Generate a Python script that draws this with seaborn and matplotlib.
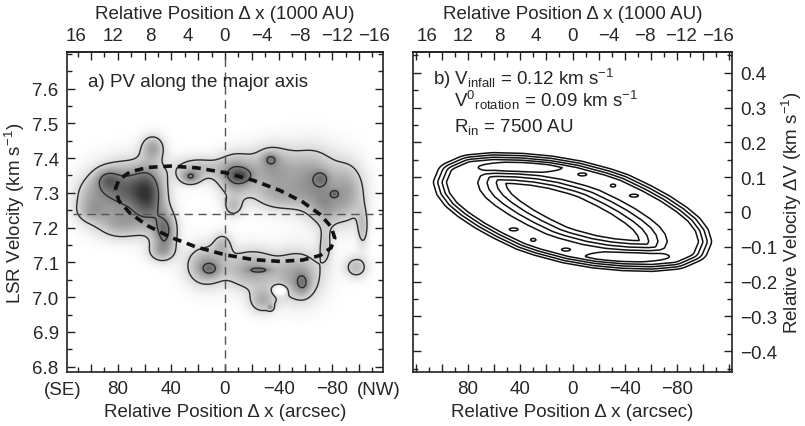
import numpy as np
import pandas as pd
import matplotlib
matplotlib.use("Agg")
import matplotlib.pyplot as plt
import seaborn as sns
from matplotlib.path import Path
from matplotlib.colors import LinearSegmentedColormap
from matplotlib.ticker import MultipleLocator, FixedLocator, FuncFormatter

# =========================================================
#   DATA
# =========================================================
dist_pc = 144          # arcsec -> AU conversion of the top axis
v_sys = 7.24           # horizontal dashed line, km/s

# dashed model ring over panel a (arcsec, km/s)
ring_x = [82, 79.2, 71, 58, 41, 21.2, 0, -21.2, -41, -58, -71, -79.2, -82,
          -79.2, -71, -58, -41, -21.2, 0, 21.2, 41, 58, 71, 79.2, 82]
ring_v = [7.310, 7.338, 7.360, 7.373, 7.377, 7.372, 7.358, 7.336, 7.307,
          7.274, 7.238, 7.203, 7.170, 7.142, 7.120, 7.107, 7.103, 7.108,
          7.122, 7.144, 7.173, 7.206, 7.242, 7.277, 7.310]

# emission clumps of panel a: position, velocity, peak, width in x, width in v
clump_x = [75, 57, 45, 54, 100, 48, 20, 26, 88, 78, 100,
           -8, -35, -65, -92, -103, -6, -12, -34, -72, -82, -40, -75,
           15, -20, -55, -28, 2, -75, 11, -26, -58, -34, -41, -98]
clump_v = [7.31, 7.29, 7.19, 7.43, 7.28, 7.13, 7.37, 7.345, 7.34, 7.21, 7.245,
           7.35, 7.37, 7.34, 7.30, 7.20, 7.26, 7.35, 7.398, 7.343, 7.297, 7.29, 7.26,
           7.09, 7.08, 7.06, 6.99, 7.15, 7.15, 7.081, 7.078, 7.038, 6.97, 7.02, 7.086]
clump_amp = [0.9, 0.8, 0.8, 0.5, 0.35, 0.35, 0.4, 0.55, 0.4, 0.45, 0.2,
             0.7, 0.55, 0.6, 0.5, 0.35, 0.35, 0.4, 0.35, 0.3, 0.3, 0.35, 0.4,
             0.55, 0.55, 0.55, 0.45, 0.35, 0.3, 0.35, 0.35, 0.35, 0.4, -0.5, 0.4]
clump_sx = [15, 8, 6, 6, 9, 7, 14, 5, 6, 12, 8,
            9, 12, 13, 9, 3, 5, 6, 4, 4, 2, 14, 8,
            10, 14, 12, 7, 5, 4, 5, 6, 4, 1.5, 3.5, 6]
clump_sv = [0.05, 0.06, 0.04, 0.025, 0.045, 0.02, 0.025, 0.014, 0.02, 0.03, 0.02,
            0.04, 0.045, 0.06, 0.06, 0.04, 0.02, 0.015, 0.013, 0.015, 0.007, 0.03, 0.04,
            0.04, 0.04, 0.05, 0.025, 0.025, 0.04, 0.015, 0.006, 0.022, 0.006, 0.01, 0.022]
levels_a = [0.25, 0.75]

# panel b: centre line of the model ring (arcsec, km/s), closed
ringb_x = [87, 84, 75, 60, 40, 20, 0, -20, -31, -47, -60, -72, -80, -85,
           -87, -84, -75, -60, -40, -20, 0, 20, 31, 47, 60, 72, 80, 85, 87]
ringb_v = [0.085, 0.112, 0.127, 0.132, 0.13, 0.123, 0.11, 0.09, 0.076, 0.047,
           0.02, -0.01, -0.035, -0.06, -0.085, -0.112, -0.127, -0.132, -0.13,
           -0.123, -0.11, -0.09, -0.076, -0.047, -0.02, 0.01, 0.035, 0.06, 0.085]
# fall-off of the emission outside / inside the ring
xscale_out, d0_out, k_out = 500.0, 0.012, 30.0
xscale_in, d0_in, k_in = 730.0, 0.010, 20.7
levels_b = [0.2, 0.4, 0.6, 0.8, 1.04]
# bright knots along the model ring
knot_x = [40, -42, -7.5, -31, -47, 45, 30, 5]
knot_v = [0.128, -0.128, 0.108, 0.076, 0.047, -0.05, -0.08, -0.108]
knot_amp = [0.3, 0.3, 0.1, 0.1, 0.1, 0.1, 0.1, 0.1]
knot_sx = [16, 16, 2.5, 1.5, 2.5, 2.5, 1.5, 2.5]
knot_sv = [0.008, 0.008, 0.003, 0.003, 0.003, 0.003, 0.003, 0.003]

# axis ticks
kau_ticks = [16, 12, 8, 4, 0, -4, -8, -12, -16]
lsr_ticks = [6.8, 6.9, 7.0, 7.1, 7.2, 7.3, 7.4, 7.5, 7.6]

# =========================================================
#   STYLE
# =========================================================
sns.set_theme(style="ticks")
plt.rcParams["font.family"] = ["Liberation Sans", "DejaVu Sans"]
plt.rcParams["mathtext.fontset"] = "custom"
plt.rcParams["mathtext.rm"] = "Liberation Sans"
plt.rcParams["mathtext.default"] = "regular"
plt.rcParams["axes.linewidth"] = 1.2

fs = 13.5
gray_cmap = LinearSegmentedColormap.from_list("pv", ["#ffffff", "#333333"])


def minus(s):
    return s.replace("-", "\u2212")


def fmt_arcsec(v, p):
    if abs(v) % 40 > 1e-6 or abs(v) > 100:
        return ""
    return minus(f"{v:.0f}")


def fmt_kau(v, p):
    return minus(f"{v:.0f}")


def fmt_dv(v, p):
    if abs(v) < 1e-6:
        return "0"
    return minus(f"{v:.1f}")


def field_a(X, V):
    f = np.zeros_like(X)
    for x0, v0, a, sx, sv in zip(clump_x, clump_v, clump_amp, clump_sx, clump_sv):
        f += a * np.exp(-0.5 * ((X - x0) / sx) ** 2 - 0.5 * ((V - v0) / sv) ** 2)
    return f


def dist_to_ring(X, V, xscale):
    px = np.array(ringb_x) / xscale
    pv = np.array(ringb_v)
    x = X / xscale
    d2 = np.full(X.shape, np.inf)
    for i in range(len(px) - 1):
        ex, ev = px[i + 1] - px[i], pv[i + 1] - pv[i]
        t = ((x - px[i]) * ex + (V - pv[i]) * ev) / (ex * ex + ev * ev)
        t = np.clip(t, 0, 1)
        d2 = np.minimum(d2, (x - px[i] - t * ex) ** 2 + (V - pv[i] - t * ev) ** 2)
    return np.sqrt(d2)


def field_b(X, V):
    inside = Path(np.column_stack([ringb_x, ringb_v])).contains_points(
        np.column_stack([X.ravel(), V.ravel()])).reshape(X.shape)
    f_out = 1 - k_out * (dist_to_ring(X, V, xscale_out) - d0_out)
    f_in = 1 - k_in * (dist_to_ring(X, V, xscale_in) - d0_in)
    f = np.clip(np.where(inside, f_in, f_out), 0, 1)
    for x0, v0, a, sx, sv in zip(knot_x, knot_v, knot_amp, knot_sx, knot_sv):
        f += a * np.exp(-0.5 * ((X - x0) / sx) ** 2 - 0.5 * ((V - v0) / sv) ** 2)
    return f


def style_axis(ax, xlim):
    ax.set_xlim(xlim, -xlim)
    ax.xaxis.set_major_locator(MultipleLocator(20))
    ax.xaxis.set_minor_locator(MultipleLocator(10))
    ax.xaxis.set_major_formatter(FuncFormatter(fmt_arcsec))
    ax.yaxis.set_minor_locator(MultipleLocator(0.05))
    ax.tick_params(which="both", direction="in", top=True, right=True,
                   labelsize=fs, color="#222222", width=1.0)
    ax.tick_params(which="major", length=6, pad=6)
    ax.tick_params(which="minor", length=3.5)
    ax.set_xlabel("Relative Position \u0394 x (arcsec)", fontsize=fs, labelpad=4)
    for s in ax.spines.values():
        s.set_color("#222222")
    sec = ax.secondary_xaxis("top", functions=(lambda a: a * dist_pc / 1000.0,
                                               lambda k: k * 1000.0 / dist_pc))
    sec.xaxis.set_major_locator(FixedLocator(kau_ticks))
    sec.xaxis.set_major_formatter(FuncFormatter(fmt_kau))
    sec.tick_params(length=0, pad=6, labelsize=fs)
    sec.set_xlabel("Relative Position \u0394 x (1000 AU)", fontsize=fs, labelpad=6)
    return sec


# =========================================================
#   FIGURE
# =========================================================
fig = plt.figure(figsize=(8.05, 4.27), dpi=100)
ax1 = fig.add_axes([67 / 805, 54 / 427, 316 / 805, 320 / 427])
ax2 = fig.add_axes([413 / 805, 54 / 427, 319 / 805, 320 / 427])

# ---------------- panel a ----------------
xa = np.linspace(-118, 118, 480)
va = np.linspace(6.785, 7.705, 400)
XA, VA = np.meshgrid(xa, va)
FA = field_a(XA, VA)

ax1.imshow(FA, extent=[xa[0], xa[-1], va[0], va[-1]], origin="lower",
           aspect="auto", cmap=gray_cmap, vmin=0.0, vmax=1.25,
           interpolation="bilinear")
ax1.contour(XA, VA, FA, levels=levels_a, colors="#2a2a2a", linewidths=1.0)
ax1.axvline(0, color="#555555", lw=1.0, ls=(0, (6, 4)))
ax1.axhline(v_sys, xmin=0.02, color="#555555", lw=1.0, ls=(0, (6, 4)))

ring_df = pd.DataFrame({"x": ring_x, "v": ring_v})
sns.lineplot(data=ring_df, x="x", y="v", sort=False, estimator=None,
             color="#111111", lw=2.6, ax=ax1)
ax1.lines[-1].set_dashes((2.4, 1.6))

ax1.set_ylim(6.785, 7.705)
style_axis(ax1, 118)
ax1.yaxis.set_major_locator(FixedLocator(lsr_ticks))
ax1.yaxis.set_major_formatter(FuncFormatter(lambda v, p: f"{v:.1f}"))
ax1.set_ylabel("LSR Velocity (km s$^{-1}$)", fontsize=fs, labelpad=4)
ax1.text(0.066, 0.894, "a) PV along the major axis", transform=ax1.transAxes,
         fontsize=fs, va="baseline", ha="left")
ax1.text(-0.015, -0.055, "(SE)", transform=ax1.transAxes, fontsize=fs,
         ha="center", va="center")
ax1.text(0.985, -0.055, "(NW)", transform=ax1.transAxes, fontsize=fs,
         ha="center", va="center")

# ---------------- panel b ----------------
xb = np.linspace(-122, 122, 480)
vb = np.linspace(-0.46, 0.46, 480)
XB, VB = np.meshgrid(xb, vb)
FB = field_b(XB, VB)
ax2.contour(XB, VB, FB, levels=levels_b, colors="#111111", linewidths=1.1)
ax2.set_ylim(-0.46, 0.46)
style_axis(ax2, 122)
ax2.yaxis.set_major_locator(MultipleLocator(0.1))
ax2.tick_params(which="both", labelleft=False, labelright=True)
ax2.yaxis.set_label_position("right")
ax2.yaxis.set_major_formatter(FuncFormatter(fmt_dv))
ax2.set_ylabel("Relative Velocity \u0394V (km s$^{-1}$)", fontsize=fs, labelpad=1.5)
ax2.text(0.063, 0.9, "b) V$_{infall}$ = 0.12 km s$^{-1}$", transform=ax2.transAxes,
         fontsize=fs, va="baseline", ha="left")
ax2.text(0.128, 0.831, "V$^{0}{}_{rotation}$ = 0.09 km s$^{-1}$", transform=ax2.transAxes,
         fontsize=fs, va="baseline", ha="left")
ax2.text(0.128, 0.753, "R$_{in}$ = 7500 AU", transform=ax2.transAxes,
         fontsize=fs, va="baseline", ha="left")

fig.savefig("out.png", dpi=100)
